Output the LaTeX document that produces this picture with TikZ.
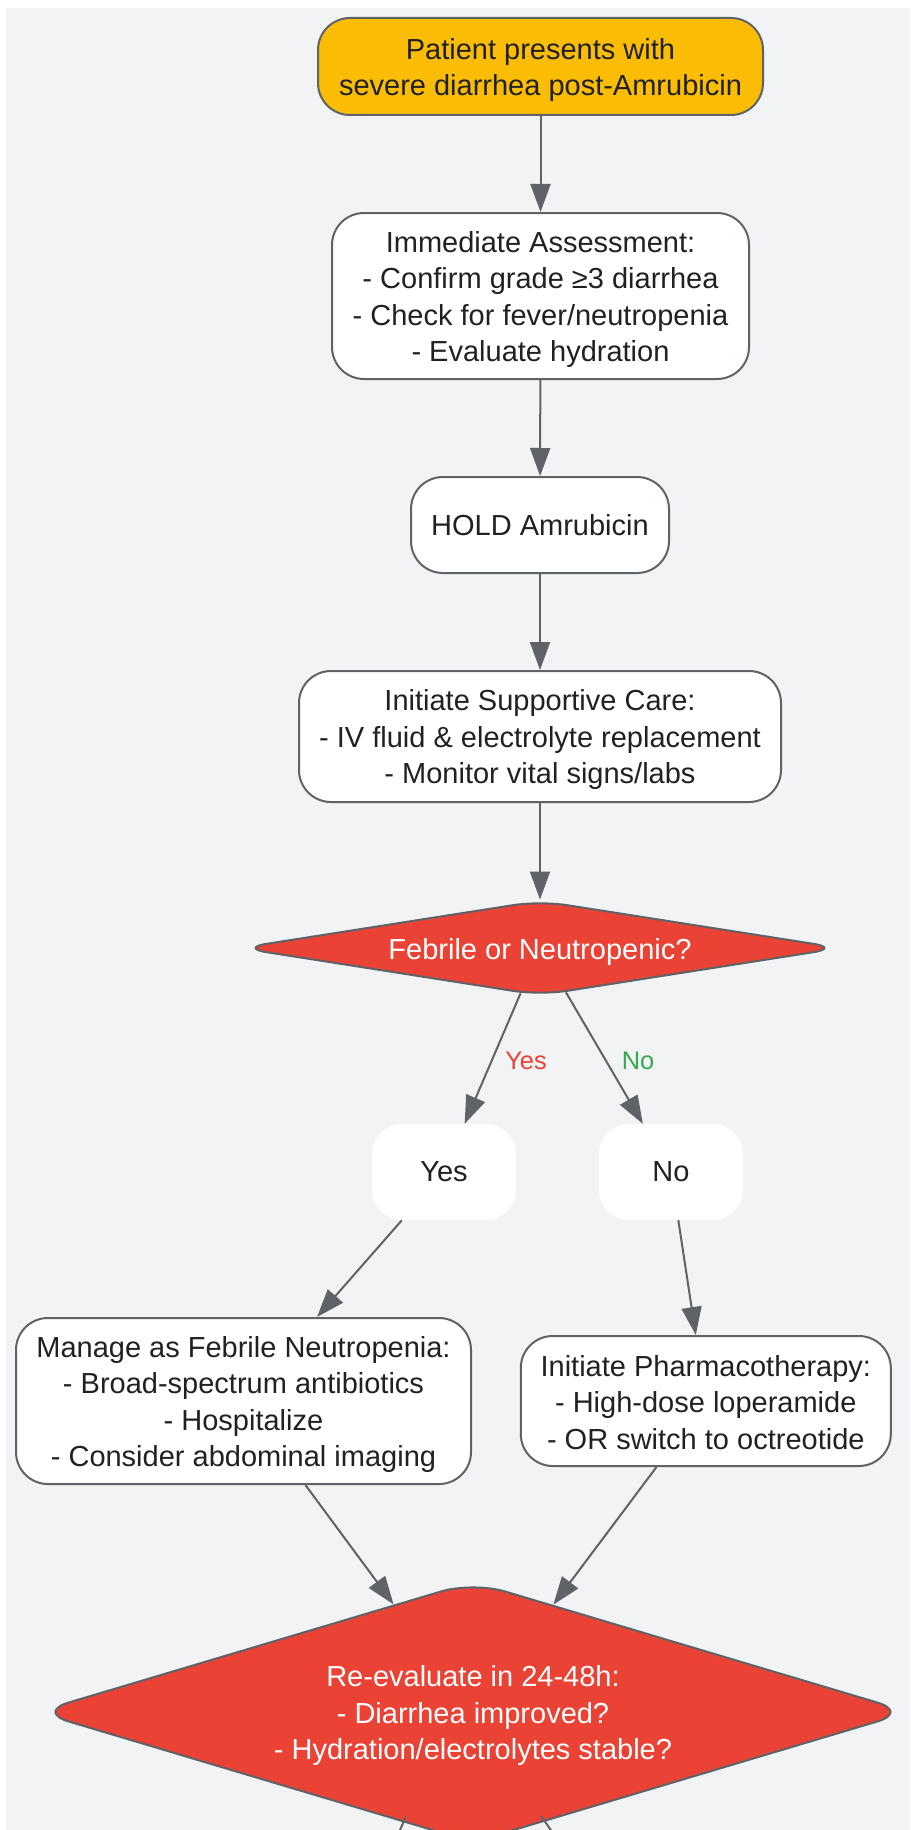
\documentclass[tikz,border=0pt]{standalone}
\usepackage{fontspec}
\setmainfont{Liberation Sans}
\usetikzlibrary{shapes.geometric,arrows.meta}
\definecolor{bgc}{HTML}{F1F3F4}
\definecolor{strokec}{HTML}{5F6368}
\definecolor{goldc}{HTML}{FBBC05}
\definecolor{redc}{HTML}{EA4335}
\definecolor{greenc}{HTML}{34A853}
\definecolor{textc}{HTML}{202124}
\newcommand{\fstrut}{\rule{0pt}{28pt}}
\begin{document}
\begin{tikzpicture}[x=1pt,y=-1pt,
  mainfont/.style={font=\fontsize{29}{36.5}\selectfont},
  box/.style={rectangle, rounded corners=32pt, draw=strokec, line width=2pt, fill=white, text=textc, align=center, inner sep=0pt, mainfont},
  startbox/.style={box, fill=goldc},
  plainbox/.style={rectangle, rounded corners=30pt, fill=white, draw=none, text=textc, inner sep=0pt, mainfont},
  decision/.style={diamond, draw=strokec, line width=2pt, fill=redc, text=white, align=center, inner sep=0pt, mainfont},
  arr/.style={draw=strokec, line width=2pt, -{Triangle[length=28pt,width=20pt]}},
  edgeline/.style={draw=strokec, line width=2pt},
  lbl/.style={font=\fontsize{25.4}{30}\selectfont, inner sep=0pt}
]
\useasboundingbox (0,0) rectangle (910,1830);
\fill[white] (0,0) rectangle (910,1830);
\fill[bgc] (6,8) rectangle (910,1830);
\clip (0,0) rectangle (910,1830);

\node[startbox, minimum width=445pt, minimum height=97pt] (n1) at (540.5,66.5)
  {\fstrut Patient presents with\\severe diarrhea post-Amrubicin};
\node[box, minimum width=417pt, minimum height=166pt] (n2) at (540.5,296)
  {\fstrut Immediate Assessment:\\- Confirm grade ≥3 diarrhea\\- Check for fever/neutropenia\\- Evaluate hydration};
\node[box, minimum width=258pt, minimum height=96pt] (n3) at (540,525)
  {HOLD Amrubicin};
\node[box, minimum width=482pt, minimum height=131pt] (n4) at (540,736.5)
  {\fstrut Initiate Supportive Care:\\- IV fluid \& electrolyte replacement\\- Monitor vital signs/labs};
\node[decision, minimum width=601pt, minimum height=95pt, shape aspect=6.3, rounded corners=27pt] (d1) at (540,948)
  {\fstrut Febrile or Neutropenic?};
\node[plainbox, minimum width=144pt, minimum height=96pt] (yes) at (444,1172) {Yes};
\node[plainbox, minimum width=144pt, minimum height=96pt] (no) at (671,1172) {No};
\node[box, minimum width=455pt, minimum height=166pt] (man) at (243.5,1401)
  {\fstrut Manage as Febrile Neutropenia:\\- Broad-spectrum antibiotics\\- Hospitalize\\- Consider abdominal imaging};
\node[box, minimum width=370pt, minimum height=130pt] (pha) at (705.8,1401)
  {\rule{0pt}{24pt}Initiate Pharmacotherapy:\\- High-dose loperamide\\- OR switch to octreotide};
\node[decision, minimum width=873pt, minimum height=261pt, shape aspect=3.34, rounded corners=33pt] (d2) at (473,1712)
  {\fstrut Re-evaluate in 24-48h:\\- Diarrhea improved?\\- Hydration/electrolytes stable?};

\node[lbl, text=redc] (lyes) at (526,1061) {Yes};
\node[lbl, text=greenc] (lno) at (638,1061) {No};

\draw[arr] (n1) -- (n2);
\draw[arr] (n2) -- (n3);
\draw[arr] (n3) -- (n4);
\draw[arr] (n4) -- (d1);
\draw[arr] (d1) -- (yes);
\draw[arr] (d1) -- (no);
\draw[arr] (yes) -- (man);
\draw[arr] (no) -- (pha);
\draw[arr] (man) -- (d2);
\draw[arr] (pha) -- (d2);

\coordinate (x1s) at (405.7,1816.8);
\coordinate (x1e) at (383,1870);
\coordinate (x2s) at (541.5,1816.5);
\coordinate (x2e) at (578.4,1870);
\draw[edgeline] (x1s) -- (x1e);
\draw[edgeline] (x2s) -- (x2e);
\end{tikzpicture}
\end{document}
